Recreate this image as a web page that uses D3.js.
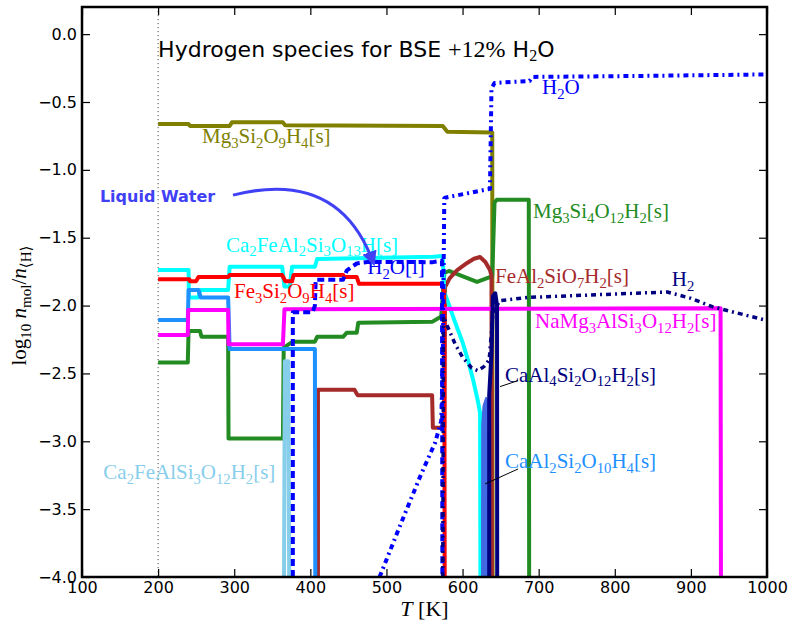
<!DOCTYPE html>
<html>
<head>
<meta charset="utf-8">
<script src="https://cdn.jsdelivr.net/npm/d3@7/dist/d3.min.js"></script>
<style>
  body { margin: 0; background: #fff; }
  text { font-family: "DejaVu Sans", sans-serif; }
  .serif { font-family: "Liberation Serif", "DejaVu Serif", serif; }
</style>
</head>
<body>
<script>
// series: [T in K, log10 n/n<H>]
const olive = [[200,-0.663],[240,-0.663],[242,-0.677],[294,-0.677],[297,-0.65],[364,-0.65],[367,-0.672],[574,-0.677],[580,-0.72],[639,-0.725],[639.5,-4]];
const green = [[200,-2.42],[239,-2.42],[240,-2.187],[255,-2.187],[257,-2.23],[292,-2.23],[292.5,-2.98],[364,-2.98],[365,-2.31],[377,-2.266],[406,-2.266],[409,-2.23],[443,-2.23],[448,-2.2],[461,-2.2],[463,-2.126],[560,-2.12],[572,-2.08],[576,-1.76],[582,-1.745],[619,-1.826],[636,-1.79],[639,-1.785],[642,-1.24],[645,-1.22],[687,-1.22],[687.5,-4]];
const brown = [[410,-4],[410,-2.62],[458,-2.62],[462,-2.66],[560,-2.66],[561,-2.90],[576,-2.90],[577,-1.863],[583,-1.80],[593,-1.738],[606,-1.686],[615,-1.655],[623,-1.642],[630,-1.679],[636,-1.738],[638,-1.78],[638.5,-4]];
const cyan = [[200,-1.738],[240,-1.738],[240.5,-1.94],[253,-1.94],[255,-1.885],[292,-1.885],[294,-1.714],[363,-1.714],[366,-1.86],[373,-1.86],[376,-1.714],[406,-1.714],[409,-1.657],[561,-1.64],[574,-1.635],[576,-1.90],[580,-1.96],[590,-2.12],[600,-2.27],[607,-2.40],[614,-2.55],[620,-2.70],[623,-2.79],[623.5,-4]];
const red = [[200,-1.806],[241,-1.806],[242,-1.82],[250,-1.82],[253,-1.79],[292,-1.79],[294,-1.775],[363,-1.775],[367,-1.82],[376,-1.82],[378,-1.775],[443,-1.775],[445,-1.79],[461,-1.79],[464,-1.84],[573,-1.84],[576,-1.90],[576.5,-4]];
const dodger = [[200,-2.106],[239,-2.106],[240,-1.885],[253,-1.885],[256,-1.94],[292,-1.94],[294,-2.32],[406,-2.32],[406.5,-4]];
const magenta = [[200,-2.217],[239,-2.217],[239.5,-2.032],[292,-2.032],[292.5,-2.285],[364,-2.285],[366,-2.027],[939,-2.02],[939.5,-4]];
const skyblue = [[365.4,-4],[366.5,-2.41],[371,-2.41],[372.2,-4]];
const navy = [[635,-4],[635,-2.66],[638,-2.35],[640,-1.93],[643,-1.91],[645.3,-2.0],[645.5,-4]];
const royal = [[625.6,-4],[625.8,-2.88],[627.5,-2.74],[631,-2.68],[634,-2.72],[635.8,-2.9],[636,-4]];
const h2oGas = [[491,-4],[518,-3.62],[545,-3.25],[564,-3.01],[572,-2.85],[574,-2.4],[576,-1.21],[577,-1.205],[636,-1.14],[638,-0.40],[642,-0.36],[688,-0.345],[692,-0.315],[800,-0.31],[1000,-0.297]];
const h2oLiq = [[377,-4],[377,-2.05],[403,-2.05],[406,-2.0],[407,-1.81],[443,-1.81],[448,-1.74],[461,-1.69],[475,-1.679],[561,-1.68],[573,-1.67],[573.5,-4]];
const h2 = [[574,-4],[575,-2.08],[580,-2.15],[590,-2.28],[600,-2.38],[612,-2.46],[620,-2.48],[628,-2.45],[635,-2.40],[640,-2.05],[649,-1.964],[686,-1.94],[869,-1.90],[899,-1.945],[929,-2.01],[1000,-2.11]];

const xTicks = [100,200,300,400,500,600,700,800,900,1000];
const yTicks = [0,-0.5,-1,-1.5,-2,-2.5,-3,-3.5,-4];

const width = 790, height = 625;
const L = 82, R = 767, T0 = 7, B = 577;

const x = d3.scaleLinear().domain([100, 1000]).range([L, R]);
const y = d3.scaleLinear().domain([-4, 0.2]).range([B, T0]);

const svg = d3.select("body").append("svg")
    .attr("width", width).attr("height", height);

svg.append("clipPath").attr("id", "clip")
    .append("rect").attr("x", L).attr("y", T0).attr("width", R - L).attr("height", B - T0);

// dotted guide at 200 K
svg.append("line")
    .attr("x1", x(200)).attr("x2", x(200)).attr("y1", T0).attr("y2", B)
    .attr("stroke", "#555").attr("stroke-width", 1).attr("stroke-dasharray", "1.2,2.8");

let line = d3.line().x(d => x(d[0])).y(d => y(d[1]));
let g = svg.append("g").attr("clip-path", "url(#clip)");

function draw(data, color, w, dash, fill) {
    g.append("path").attr("d", line(data))
        .attr("fill", fill || "none")
        .attr("stroke", color)
        .attr("stroke-width", w)
        .attr("stroke-linejoin", "round")
        .attr("stroke-dasharray", dash || null);
}

draw(olive, "#808000", 4);
draw(green, "#228B22", 4);
draw(brown, "#A52A2A", 4);
draw(cyan, "#00FFFF", 4);
draw(red, "#FF0000", 4);
draw(dodger, "#1E90FF", 4);
draw(magenta, "#FF00FF", 4);
draw(skyblue, "#87CEEB", 4);
draw(royal, "#4169E1", 2, null, "#4169E1");
draw(navy, "#000080", 4);
draw(h2oGas, "#0000FF", 4, "5,4,2,4");
draw(h2oLiq, "#0000FF", 4, "7,4");
draw(h2, "#000080", 3.5, "5,4,2,4");

// axes, ticks inward on all sides
let ax = svg.append("g");
ax.append("g").attr("transform", "translate(0," + B + ")")
    .call(d3.axisBottom(x).tickValues(xTicks).tickSizeInner(-8).tickSizeOuter(0).tickPadding(5).tickFormat(d3.format("d")));
ax.append("g").attr("transform", "translate(0," + T0 + ")")
    .call(d3.axisTop(x).tickValues(xTicks).tickSizeInner(-8).tickSizeOuter(0).tickFormat(""));
ax.append("g").attr("transform", "translate(" + L + ",0)")
    .call(d3.axisLeft(y).tickValues(yTicks).tickSizeInner(-8).tickSizeOuter(0).tickPadding(5).tickFormat(d3.format(".1f")));
ax.append("g").attr("transform", "translate(" + R + ",0)")
    .call(d3.axisRight(y).tickValues(yTicks).tickSizeInner(-8).tickSizeOuter(0).tickFormat(""));
ax.selectAll(".domain").remove();
ax.selectAll(".tick line").attr("stroke-width", 1.2);
ax.selectAll(".tick text").attr("font-family", "DejaVu Sans").attr("font-size", 16).attr("fill", "#000");

svg.append("rect").attr("x", L).attr("y", T0).attr("width", R - L).attr("height", B - T0)
    .attr("fill", "none").attr("stroke", "#000").attr("stroke-width", 2.5);

// chemical formula text, digits as subscripts
function formula(sel, str, size) {
    let shifted = false;
    str.split(/(\d+)/).filter(s => s.length).forEach(p => {
        let t = sel.append("tspan").text(p);
        if (/^\d+$/.test(p)) {
            t.attr("font-size", size * 0.7).attr("dy", shifted ? 0 : size * 0.22);
            shifted = true;
        } else {
            t.attr("dy", shifted ? -size * 0.22 : 0);
            shifted = false;
        }
    });
}

const labels = [
    ["Mg3Si2O9H4[s]", "#808000", 257.7, -0.805],
    ["H2O", "#0000FF", 704.4, -0.441],
    ["Mg3Si4O12H2[s]", "#228B22", 692.6, -1.357],
    ["Ca2FeAl2Si3O13H[s]", "#00FFFF", 289.2, -1.603],
    ["H2O[l]", "#0000FF", 474.9, -1.770],
    ["Fe3Si2O9H4[s]", "#FF0000", 299.7, -1.947],
    ["FeAl2SiO7H2[s]", "#A52A2A", 642.6, -1.836],
    ["H2", "#000080", 874.8, -1.856],
    ["NaMg3AlSi3O12H2[s]", "#FF00FF", 695.2, -2.168],
    ["CaAl4Si2O12H2[s]", "#000080", 655.8, -2.561],
    ["CaAl2Si2O10H4[s]", "#1E90FF", 655.8, -3.20],
    ["Ca2FeAlSi3O12H2[s]", "#87CEEB", 128, -3.281]
];
const labelSize = 21;
labels.forEach(l => {
    let t = svg.append("text").attr("class", "serif")
        .attr("x", x(l[2])).attr("y", y(l[3]))
        .attr("font-size", labelSize).attr("fill", l[1]);
    formula(t, l[0], labelSize);
});

// pointer lines
const pointers = [[[649.3,-2.597],[672.9,-2.553]], [[629.6,-3.314],[672.9,-3.204]]];
pointers.forEach(p => svg.append("path").attr("d", line(p)).attr("stroke", "#000").attr("stroke-width", 1).attr("fill", "none"));

// title
let title = svg.append("text").attr("x", x(200)).attr("y", y(-0.17)).attr("font-size", 22);
title.append("tspan").text("Hydrogen species for BSE ");
title.append("tspan").attr("class", "serif").attr("font-size", 24).text("+12%");
title.append("tspan").text(" H");
title.append("tspan").attr("class", "serif").attr("font-size", 16).attr("dy", 4).text("2");
title.append("tspan").attr("dy", -4).text("O");

// liquid water annotation
svg.append("defs").append("marker").attr("id", "head")
    .attr("viewBox", "0 0 10 10").attr("refX", 7).attr("refY", 5)
    .attr("markerWidth", 5).attr("markerHeight", 5).attr("orient", "auto")
    .append("path").attr("d", "M0,0L10,5L0,10z").attr("fill", "#4040F5");
const arrowFrom = [298.4, -1.186], arrowCtrl = [437, -0.99], arrowTo = [482.4, -1.679];
svg.append("path")
    .attr("d", "M" + x(arrowFrom[0]) + "," + y(arrowFrom[1]) + "Q" + x(arrowCtrl[0]) + "," + y(arrowCtrl[1]) + " " + x(arrowTo[0]) + "," + y(arrowTo[1]))
    .attr("fill", "none").attr("stroke", "#4040F5").attr("stroke-width", 3)
    .attr("marker-end", "url(#head)");
svg.append("text").attr("x", x(123.5)).attr("y", y(-1.235))
    .attr("font-size", 16).attr("font-weight", "bold").attr("fill", "#4040F5")
    .text("Liquid Water");

// axis labels
let xl = svg.append("text").attr("class", "serif").attr("x", x(550)).attr("y", 616)
    .attr("text-anchor", "middle").attr("font-size", 22);
xl.append("tspan").attr("font-style", "italic").text("T");
xl.append("tspan").text(" [K]");

let yl = svg.append("text").attr("class", "serif")
    .attr("transform", "translate(26," + y(-2.0) + ") rotate(-90)")
    .attr("text-anchor", "middle").attr("font-size", 21);
yl.append("tspan").text("log");
yl.append("tspan").attr("font-size", 15).attr("dy", 5).text("10");
yl.append("tspan").attr("dy", -5).attr("font-style", "italic").text(" n");
yl.append("tspan").attr("font-size", 15).attr("dy", 5).text("mol");
yl.append("tspan").attr("dy", -5).text("/");
yl.append("tspan").attr("font-style", "italic").text("n");
yl.append("tspan").attr("font-size", 15).attr("dy", 5).text("⟨H⟩");
</script>
</body>
</html>
